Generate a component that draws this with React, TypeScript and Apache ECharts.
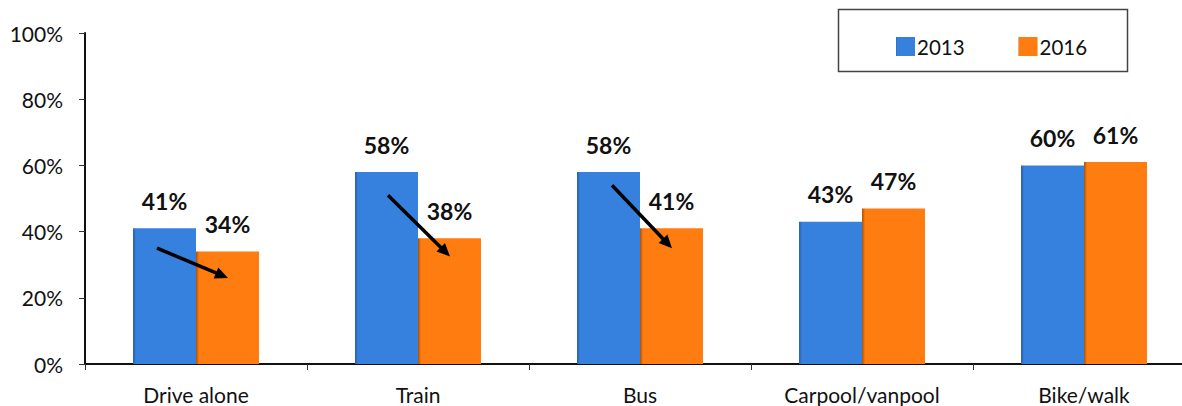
import React, { useEffect, useRef } from "react";
import * as echarts from "echarts";

const categories = ["Drive alone", "Train", "Bus", "Carpool/vanpool", "Bike/walk"];
const values2013 = [41, 58, 58, 43, 60];
const values2016 = [34, 38, 41, 47, 61];
const yTicks = [0, 20, 40, 60, 80, 100];
// arrows: category index, start value, end value
const arrowCats = [0, 1, 2];
const arrowFrom = [35, 51, 54];
const arrowTo = [26, 32.5, 35];

const FONT = "Lato, 'Noto Sans', sans-serif";
const ARROW_START_DX = [-39, -30, -28];
const ARROW_END_DX = 32;

function grad(dark: string, main: string) {
  return new echarts.graphic.LinearGradient(0, 0, 1, 0, [
    { offset: 0, color: dark },
    { offset: 0.05, color: main },
    { offset: 1, color: main },
  ]);
}

export default function App() {
  const ref = useRef<HTMLDivElement>(null);
  useEffect(() => {
    if (!ref.current) return;
    const chart = echarts.init(ref.current, null, { renderer: "svg" });
    const labelCfg = {
      show: true,
      position: "top",
      distance: 16,
      formatter: (p: any) => p.value + "%",
      color: "#111",
      fontFamily: FONT,
      fontWeight: "bold",
      fontSize: 23,
    };
    chart.setOption({
      animation: false,
      backgroundColor: "#fff",
      grid: {
        left: 85,
        top: 33,
        height: 331,
        width: 1110,
        containLabel: false,
        outerBoundsMode: "none",
      },
      legend: {
        left: 891,
        top: 31,
        itemWidth: 19,
        itemHeight: 19,
        itemGap: 54,
        textStyle: { fontFamily: FONT, fontSize: 20.5, color: "#111", padding: [0, 0, 0, -3] },
        icon: "rect",
        data: ["2013", "2016"],
      },
      xAxis: {
        type: "category",
        data: categories,
        axisLine: { lineStyle: { color: "#111", width: 2 } },
        axisTick: { show: true, length: 6, lineStyle: { color: "#333", width: 1 } },
        axisLabel: { fontFamily: FONT, fontSize: 21, color: "#111", margin: 20 },
      },
      yAxis: {
        type: "value",
        min: 0,
        max: 100,
        interval: 20,
        axisLine: { show: true, lineStyle: { color: "#111", width: 2 } },
        axisTick: { show: true, length: 6, lineStyle: { color: "#333", width: 1 } },
        splitLine: { show: false },
        axisLabel: {
          fontFamily: FONT,
          fontSize: 21,
          color: "#111",
          margin: 22,
          formatter: (v: number) => (yTicks.includes(v) ? v + "%" : ""),
        },
      },
      series: [
        {
          name: "2013",
          type: "bar",
          data: values2013,
          barWidth: 63,
          barGap: "0%",
          itemStyle: { color: grad("#2a5fa8", "#3781DE") },
          label: labelCfg,
        },
        {
          name: "2016",
          type: "bar",
          data: values2016,
          barWidth: 63,
          barGap: "0%",
          itemStyle: { color: grad("#a85208", "#FF7D10") },
          label: labelCfg,
        },
      ],
    });

    // arrows positioned through the axis scales
    const elements: any[] = [];
    arrowCats.forEach((ci, k) => {
      const c = chart.convertToPixel({ gridIndex: 0 }, [ci, 0]) as number[];
      const p1 = chart.convertToPixel({ gridIndex: 0 }, [ci, arrowFrom[k]]) as number[];
      const p2 = chart.convertToPixel({ gridIndex: 0 }, [ci, arrowTo[k]]) as number[];
      const x1 = c[0] + ARROW_START_DX[k];
      const x2 = c[0] + ARROW_END_DX;
      const y1 = p1[1];
      const y2 = p2[1];
      const dx = x2 - x1;
      const dy = y2 - y1;
      const len = Math.sqrt(dx * dx + dy * dy);
      const ux = dx / len;
      const uy = dy / len;
      const hl = 13;
      const hw = 6;
      const bx = x2 - ux * hl;
      const by = y2 - uy * hl;
      elements.push({
        type: "line",
        shape: { x1, y1, x2: bx + ux * 2, y2: by + uy * 2 },
        style: { stroke: "#000", lineWidth: 3.5 },
        z: 100,
      });
      elements.push({
        type: "polygon",
        shape: {
          points: [
            [x2, y2],
            [bx - uy * hw, by + ux * hw],
            [bx + uy * hw, by - ux * hw],
          ],
        },
        style: { fill: "#000" },
        z: 100,
      });
    });
    elements.push({
      type: "rect",
      shape: { x: 838.5, y: 9.5, width: 289, height: 62 },
      style: { fill: "none", stroke: "#444", lineWidth: 1.5 },
      z: 0,
    });
    chart.setOption({ graphic: { elements } });

    return () => chart.dispose();
  }, []);
  return <div ref={ref} style={{ width: 1182, height: 406, position: "absolute", left: 0, top: 0 }} />;
}
